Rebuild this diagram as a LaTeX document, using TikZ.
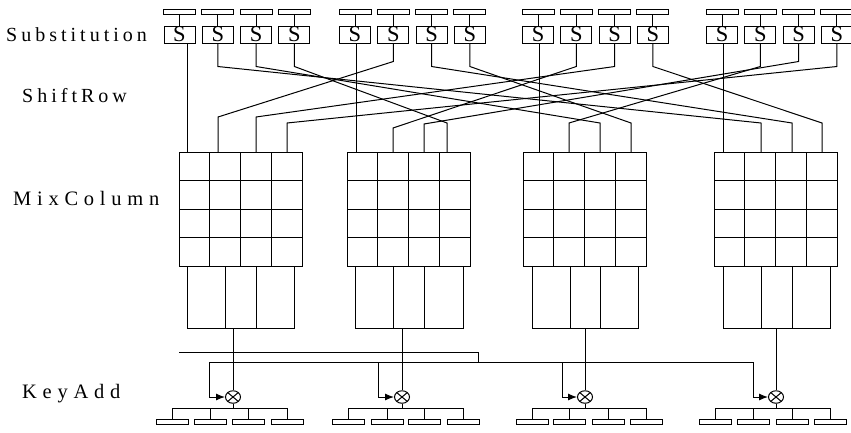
\documentclass[tikz,border=0pt]{standalone}
\usepackage{fontspec}
\setmainfont{Liberation Serif}
\newfontfamily\stagefont[LetterSpace=20]{Liberation Serif}
\newfontfamily\stagefontwide[LetterSpace=28]{Liberation Serif}
\usetikzlibrary{arrows.meta,shapes.geometric}

\tikzset{
    wire/.style={line width=1pt},
    sbox/.style={draw, line width=1pt, minimum width=31pt, minimum height=17pt,
        inner sep=0pt, font=\fontsize{22.5}{22.5}\selectfont},
    bytebar/.style={draw, line width=1pt, minimum width=32pt, minimum height=5.5pt, inner sep=0pt},
    xorgate/.style={draw, ellipse, line width=1pt, minimum width=15pt, minimum height=12.5pt,
        inner sep=0pt, path picture={
            \draw[line width=1pt] (path picture bounding box.north west) -- (path picture bounding box.south east);
            \draw[line width=1pt] (path picture bounding box.south west) -- (path picture bounding box.north east);}},
    keyarrow/.style={wire, -{Latex[length=9pt,width=7pt]}},
    stage/.style={anchor=base west, inner sep=0pt},
}

\begin{document}
\begin{tikzpicture}[x=1pt,y=-1pt]
    \fill[white] (0,0) rectangle (851,432);
    \useasboundingbox (0,0) rectangle (851,432);

    \node[stage, font=\stagefont\fontsize{20}{20}\selectfont] (lsub) at (6,41) {Substitution};
    \node[stage, font=\stagefont\fontsize{20}{20}\selectfont] (lshift) at (22,102) {ShiftRow};
    \node[stage, font=\stagefontwide\fontsize{20.5}{20.5}\selectfont] (lmix) at (13,205) {MixColumn};
    \node[stage, font=\stagefontwide\fontsize{20.5}{20.5}\selectfont] (lkey) at (22,398) {KeyAdd};

    % input bytes and S-boxes
    \foreach \g/\bx in {0/179.5,1/355,2/538,3/722}
    \foreach \j in {0,...,3} {
        \node[bytebar] (t-\g-\j) at (\bx+38.3*\j,12) {};
        \node[sbox] (s-\g-\j) at (\bx+38.3*\j,34.5) {S};
        \draw[wire] (t-\g-\j) -- (s-\g-\j);
    }

    % MixColumn inputs
    \foreach \c/\xa/\xb/\xc/\xd in {0/187/218/256/287,1/356/393/424/447,2/539/569/600/631,3/723/761/792/822} {
        \coordinate (mi-\c-0) at (\xa,152);
        \coordinate (mi-\c-1) at (\xb,152);
        \coordinate (mi-\c-2) at (\xc,152);
        \coordinate (mi-\c-3) at (\xd,152);
    }

    % ShiftRow wiring
    \foreach \c in {0,...,3}
    \draw[wire] (s-\c-0.south -| mi-\c-0) -- (mi-\c-0);
    \foreach \g/\j/\c/\sb/\mb in {1/1/0/18/35,2/2/0/23/35,3/3/0/23/29,
                                  2/1/1/23/24,3/2/1/18/28,0/3/1/23/29,
                                  3/1/2/23/29,0/2/2/23/29,1/3/2/23/29,
                                  0/1/3/23/29,1/2/3/23/29,2/3/3/23/29}
    \draw[wire] (s-\g-\j.south) -- ++(0,\sb) -- ([yshift=\mb pt]mi-\c-\j) -- (mi-\c-\j);

    % MixColumn blocks
    \foreach \bx in {179,347,523,714} {
        \draw[wire] (\bx,152) rectangle ++(123,114);
        \foreach \k in {1,2,3} {
            \draw[wire] (\bx+30.75*\k,152) -- ++(0,114);
            \draw[wire] (\bx,152+28.5*\k) -- ++(123,0);
        }
    }
    \foreach \a/\b/\cc/\d in {187/225/256/294,355/393/424/463,532/570/600/638,723/761/792/830} {
        \draw[wire] (\a,266) rectangle (\d,328);
        \draw[wire] (\b,266) -- (\b,328);
        \draw[wire] (\cc,266) -- (\cc,328);
    }

    % KeyAdd
    \foreach \c/\ox/\kx in {0/233/209,1/402/378,2/585/562,3/776/753} {
        \coordinate (mo-\c) at (\ox,328);
        \node[xorgate] (x-\c) at (\ox,397) {};
        \coordinate (kb-\c) at (\kx,362);
        \draw[wire] (mo-\c) -- (x-\c);
        \draw[keyarrow] (kb-\c) |- (x-\c.west);
    }
    \coordinate (k-in) at (179,352);
    \coordinate (k-turn) at (478,352);
    \draw[wire] (k-in) -- (k-turn) -- (k-turn |- kb-0);
    \draw[wire] (kb-0) -- (kb-3);

    % output bytes
    \foreach \c/\xa/\xb/\xc/\xd in {0/172/210/248/287,1/348/387/424/463,2/532/569/608/646,3/715/753/792/830} {
        \draw[wire] (x-\c.south) -- ++(0,5) coordinate (f-\c);
        \node[bytebar] (o-\c-0) at (\xa,422) {};
        \node[bytebar] (o-\c-1) at (\xb,422) {};
        \node[bytebar] (o-\c-2) at (\xc,422) {};
        \node[bytebar] (o-\c-3) at (\xd,422) {};
        \foreach \j in {0,...,3}
        \draw[wire] (o-\c-\j.north) |- (f-\c);
    }
\end{tikzpicture}
\end{document}
